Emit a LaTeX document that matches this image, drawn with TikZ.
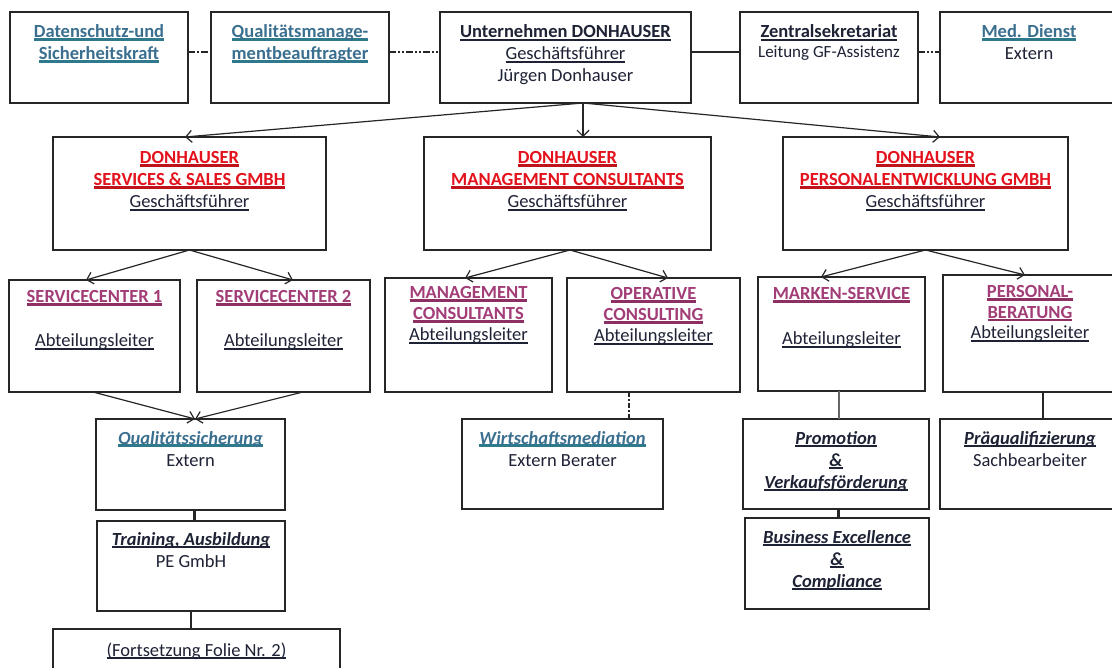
\documentclass[tikz,border=0pt]{standalone}
\usepackage{fontspec}
\setmainfont{Carlito}
\usetikzlibrary{arrows.meta}
\definecolor{tealtx}{HTML}{3A6F8F}
\definecolor{tealul}{HTML}{2E7A8C}
\definecolor{redtx}{HTML}{E3121C}
\definecolor{redul}{HTML}{C0121B}
\definecolor{magtx}{HTML}{A23D77}
\definecolor{magul}{HTML}{8E2F63}
\definecolor{ink}{HTML}{1E2235}
\definecolor{boxc}{HTML}{262626}
\newcommand\ulx[3]{{\sbox0{#3}\leavevmode\rlap{\color{#1}\rule[-2.6pt]{\wd0}{#2}}\usebox0}}
\newcommand\ulTeal[1]{\ulx{tealul}{2.2pt}{\color{tealtx}\bfseries #1}}
\newcommand\ulTealIt[1]{\ulx{tealul}{2.2pt}{\color{tealtx}\bfseries\itshape #1}}
\newcommand\ulRed[1]{\ulx{redul}{2.2pt}{\color{redtx}\bfseries #1}}
\newcommand\ulMag[1]{\ulx{magul}{2.4pt}{\color{magtx}\bfseries #1}}
\newcommand\ulBlk[1]{\ulx{ink}{1.4pt}{\color{ink}\bfseries #1}}
\newcommand\ulBlkIt[1]{\ulx{ink}{1.4pt}{\color{ink}\bfseries\itshape #1}}
\newcommand\ulReg[1]{\ulx{ink}{1.2pt}{\color{ink}#1}}
\newcommand\obox[7]{\node[obx] (#1) at ({(#2+#4)/2},{(#3+#5)/2})
  {\parbox[c][\dimexpr#5pt-#3pt\relax][t]{\dimexpr#4pt-#2pt\relax}{\centering\color{ink}\fontsize{18.5}{22}\selectfont\rule{0pt}{#6pt}#7\par}};}
\tikzset{
  obx/.style={draw=boxc, line width=1.3pt, inner sep=0pt, outer sep=0pt, rectangle},
  arr/.style={draw=boxc, line width=1.2pt, -{Straight Barb[length=6pt,width=12pt,line width=1.2pt]}},
  link/.style={draw=boxc, line width=2.4pt},
  dashdot/.style={link, dash pattern=on 7pt off 2pt on 2pt off 2pt},
  dashdotdot/.style={link, dash pattern=on 7pt off 2pt on 2pt off 2pt on 2pt off 2pt},
  thinlink/.style={draw=gray!80!black, line width=1.3pt}
}
\begin{document}
\begin{tikzpicture}[x=1pt,y=-1pt]
\useasboundingbox (0,0) rectangle (1112,668);
\fill[white] (0,0) rectangle (1112,668);
% row 1
\obox{A1}{10}{12}{188}{103}{26}{\ulTeal{Datenschutz-und}\\\ulTeal{Sicherheitskraft}}
\obox{A2}{211}{12}{389}{103}{26}{\ulTeal{Qualitätsmanage-}\\\ulTeal{mentbeauftragter}}
\obox{A3}{440}{12}{691}{103}{26}{\ulBlk{Unternehmen DONHAUSER}\\\ulReg{Geschäftsführer}\\Jürgen Donhauser}
\obox{A4}{740}{12}{918}{103}{26}{\ulBlk{Zentralsekretariat}\\[-2pt]{\fontsize{17}{20}\selectfont Leitung GF-Assistenz}}
\obox{A5}{940}{12}{1118}{103}{26}{\ulTeal{Med. Dienst}\\Extern}
% row 2
\obox{B1}{53}{137}{326}{250}{27}{\ulRed{DONHAUSER}\\\ulRed{SERVICES \& SALES GMBH}\\\ulReg{Geschäftsführer}}
\obox{B2}{424}{137}{711}{250}{27}{\ulRed{DONHAUSER}\\\ulRed{MANAGEMENT CONSULTANTS}\\\ulReg{Geschäftsführer}}
\obox{B3}{783}{137}{1068}{250}{27}{\ulRed{DONHAUSER}\\\ulRed{PERSONALENTWICKLUNG GMBH}\\\ulReg{Geschäftsführer}}
% row 3
\obox{C1}{9}{280}{180}{392}{23}{\ulMag{SERVICECENTER 1}\\[22pt]\ulReg{Abteilungsleiter}}
\obox{C2}{197}{280}{370}{392}{23}{\ulMag{SERVICECENTER 2}\\[22pt]\ulReg{Abteilungsleiter}}
\obox{C3}{385}{278}{552}{392}{21}{\fontsize{18.5}{21}\selectfont\ulMag{MANAGEMENT}\\\ulMag{CONSULTANTS}\\\ulReg{Abteilungsleiter}}
\obox{C4}{567}{278}{740}{392}{22}{\fontsize{18.5}{21}\selectfont\ulMag{OPERATIVE}\\\ulMag{CONSULTING}\\\ulReg{Abteilungsleiter}}
\obox{C5}{758}{277}{925}{391}{23}{\ulMag{MARKEN-SERVICE}\\[23pt]\ulReg{Abteilungsleiter}}
\obox{C6}{943}{275}{1117}{392}{23}{\fontsize{18.5}{20.5}\selectfont\ulMag{PERSONAL-}\\\ulMag{BERATUNG}\\\ulReg{Abteilungsleiter}}
% row 4
\obox{D1}{96}{419}{285}{510}{25}{\ulTealIt{Qualitätssicherung}\\Extern}
\obox{D2}{462}{419}{663}{509}{25}{\ulTealIt{Wirtschaftsmediation}\\Extern Berater}
\obox{D3}{743}{419}{929}{509}{25}{\ulBlkIt{Promotion}\\\ulBlkIt{\&}\\\ulBlkIt{Verkaufsförderung}}
\obox{D4}{940}{419}{1120}{509}{25}{\ulBlkIt{Präqualifizierung}\\Sachbearbeiter}
% row 5
\obox{E1}{97}{521}{285}{611}{24}{\ulBlkIt{Training, Ausbildung}\\PE GmbH}
\obox{E2}{745}{518}{929}{609}{25}{\ulBlkIt{Business Excellence}\\\ulBlkIt{\&}\\\ulBlkIt{Compliance}}
\obox{F1}{53}{629}{340}{700}{27}{\ulReg{(Fortsetzung Folie Nr. 2)}}
% top row links
\draw[dashdot] ([yshift=5.5pt]A1.east) -- ([yshift=5.5pt]A2.west);
\draw[dashdotdot] ([yshift=5.5pt]A2.east) -- ([yshift=5.5pt]A3.west);
\draw[link] ([yshift=5.5pt]A3.east) -- ([yshift=5.5pt]A4.west);
\draw[dashdotdot] ([yshift=5.5pt]A4.east) -- ([yshift=5.5pt]A5.west);
% arrows
\draw[arr] ([xshift=17.5pt]A3.south) -- ([xshift=-4.5pt]B1.north);
\draw[arr] ([xshift=17.5pt]A3.south) -- ([xshift=15.5pt]B2.north);
\draw[arr] ([xshift=17.5pt]A3.south) -- ([xshift=14.5pt]B3.north);
\draw[arr] (B1.south) -- ([xshift=-8.5pt]C1.north);
\draw[arr] (B1.south) -- ([xshift=9.5pt]C2.north);
\draw[arr] ([xshift=2.5pt]B2.south) -- ([xshift=-3.5pt]C3.north);
\draw[arr] ([xshift=2.5pt]B2.south) -- ([xshift=14.5pt]C4.north);
\draw[arr] (B3.south) -- ([xshift=-20.5pt]C5.north);
\draw[arr] (B3.south) -- ([xshift=-5pt]C6.north);
\draw[arr] ([xshift=-1.5pt]C1.south) -- ([xshift=4.5pt]D1.north);
\draw[arr] ([xshift=19.5pt]C2.south) -- ([xshift=4.5pt]D1.north);
% vertical links
\draw[link, line width=1.8pt, dash pattern=on 5pt off 2pt on 2pt off 2pt] ([xshift=-24.5pt]C4.south) -- ([xshift=-24.5pt]C4.south |- D2.north);
\draw[thinlink] ([xshift=-2.5pt]C5.south) -- ([xshift=-2.5pt]C5.south |- D3.north);
\draw[link] ([xshift=13pt]C6.south) -- ([xshift=13pt]C6.south |- D4.north);
\draw[link] ([xshift=4pt]D1.south) -- ([xshift=4pt]D1.south |- E1.north);
\draw[link] (E1.south) -- (E1.south |- F1.north);
\draw[link] ([xshift=2.5pt]D3.south) -- ([xshift=2.5pt]D3.south |- E2.north);
\end{tikzpicture}
\end{document}
